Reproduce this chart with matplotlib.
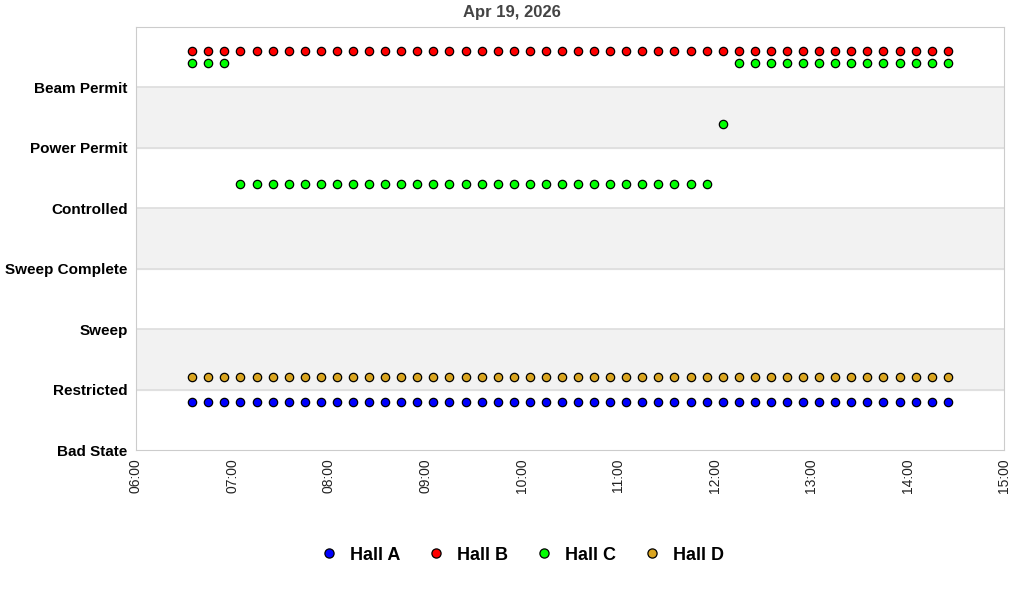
import matplotlib
matplotlib.use('Agg')
import matplotlib.pyplot as plt
import matplotlib.dates as mdates
import pandas as pd

plt.rcParams['font.family'] = ['Liberation Sans', 'DejaVu Sans']

state_labels = ['Bad State', 'Restricted', 'Sweep', 'Sweep Complete',
                'Controlled', 'Power Permit', 'Beam Permit']
halls = ['Hall A', 'Hall B', 'Hall C', 'Hall D']
colors = ['#0000ff', '#ff0000', '#00ff00', '#daa520']
offsets = [0.8, 0.6, 0.4, 0.2]

# samples every 10 min
times = pd.date_range('2026-04-19 06:35', periods=48, freq='10min')
hall_a = [0] * 48
hall_b = [6] * 48
hall_c = [6] * 3 + [4] * 30 + [5] + [6] * 14
hall_d = [1] * 48
states = [hall_a, hall_b, hall_c, hall_d]

fig = plt.figure(figsize=(10.24, 6.0), dpi=100)
ax = fig.add_axes([0.1328, 0.25, 0.8477, 0.705])

for lo in [1, 3, 5]:
    ax.axhspan(lo, lo + 1, color='#f2f2f2', zorder=0)
for y in range(1, 7):
    ax.axhline(y, color='#dddddd', lw=1.2, zorder=1)

for name, col, off, vals in zip(halls, colors, offsets, states):
    ax.plot(times, [v + off for v in vals], 'o', color=col, mec='black',
            mew=0.9, ms=6, label=name, zorder=3)

ax.set_ylim(0, 7)
ax.set_yticks(range(7))
ax.set_yticklabels(state_labels, fontsize=11, fontweight='bold')
ax.set_xlim(pd.Timestamp('2026-04-19 06:00'), pd.Timestamp('2026-04-19 15:00'))
ax.xaxis.set_major_locator(mdates.HourLocator())
ax.xaxis.set_major_formatter(mdates.DateFormatter('%H:%M'))
plt.setp(ax.get_xticklabels(), rotation=90, fontsize=10, color='#222222')
ax.tick_params(length=0, pad=6)
for s in ax.spines.values():
    s.set_color('#cccccc')

fig.suptitle('Apr 19, 2026', x=0.5, y=0.992, fontsize=12, fontweight='bold',
             color='#444444')
fig.legend(loc='center', bbox_to_anchor=(0.505, 0.075), ncol=4, frameon=False,
           prop={'size': 13, 'weight': 'bold'}, handletextpad=0.15,
           columnspacing=1.0, markerscale=1.1)

fig.savefig('out.png', dpi=100)
